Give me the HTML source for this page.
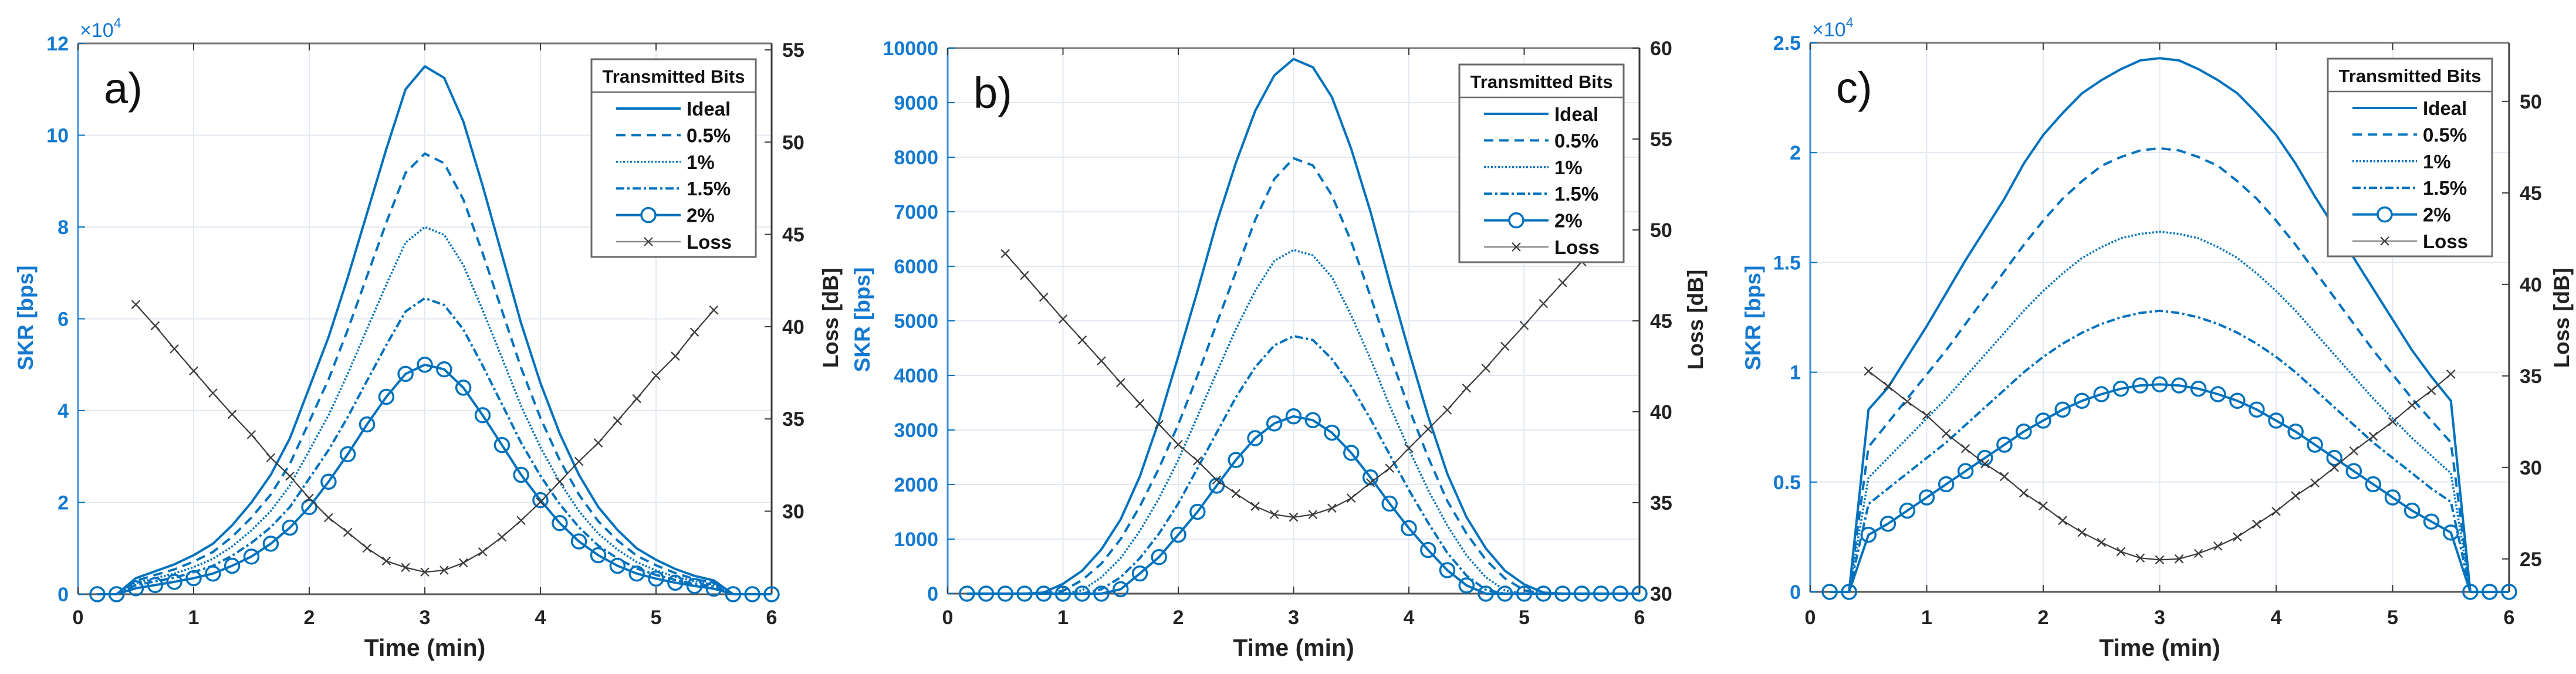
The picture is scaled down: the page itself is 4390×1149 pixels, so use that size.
<!DOCTYPE html>
<html><head><meta charset="utf-8"><style>
html,body{margin:0;padding:0;background:#fff;}
svg{display:block;}
text{font-family:"Liberation Sans",Arial,sans-serif;}
</style></head><body>
<svg id="fig" width="4390" height="1149" viewBox="0 0 4390 1149" xmlns="http://www.w3.org/2000/svg"></svg>
<script>
const t36 = [0.167,0.333,0.5,0.667,0.833,1,1.167,1.333,1.5,1.667,1.833,2,2.167,2.333,2.5,2.667,2.833,3,3.167,3.333,3.5,3.667,3.833,4,4.167,4.333,4.5,4.667,4.833,5,5.167,5.333,5.5,5.667,5.833,6];
const tLoss = [0.5,0.667,0.833,1,1.167,1.333,1.5,1.667,1.833,2,2.167,2.333,2.5,2.667,2.833,3,3.167,3.333,3.5,3.667,3.833,4,4.167,4.333,4.5,4.667,4.833,5,5.167,5.333,5.5];
const xTicks = [0,1,2,3,4,5,6];
const legendLabels = ["Ideal","0.5%","1%","1.5%","2%","Loss"];

const aIdeal = [0,0,0.35,0.5,0.65,0.85,1.1,1.5,2.0,2.6,3.4,4.5,5.6,6.9,8.3,9.7,11.0,11.5,11.25,10.3,8.9,7.4,5.9,4.6,3.5,2.6,1.9,1.4,1.0,0.75,0.55,0.4,0.3,0,0,0];
const a05 = [0,0,0.29,0.42,0.54,0.71,0.92,1.25,1.67,2.17,2.84,3.76,4.68,5.76,6.93,8.1,9.18,9.6,9.39,8.6,7.43,6.18,4.93,3.84,2.92,2.17,1.59,1.17,0.84,0.63,0.46,0.33,0.25,0,0,0];
const a1 = [0,0,0.24,0.35,0.45,0.59,0.77,1.04,1.39,1.81,2.37,3.13,3.9,4.8,5.78,6.75,7.66,8.0,7.83,7.17,6.19,5.15,4.1,3.2,2.44,1.81,1.32,0.97,0.7,0.52,0.38,0.28,0.21,0,0,0];
const a15 = [0,0,0.2,0.28,0.36,0.48,0.62,0.84,1.12,1.46,1.9,2.52,3.14,3.86,4.65,5.43,6.16,6.45,6.3,5.77,4.98,4.14,3.3,2.58,1.96,1.46,1.06,0.78,0.56,0.42,0.31,0.22,0.17,0,0,0];
const a2 = [0,0,0.13,0.2,0.27,0.35,0.45,0.62,0.82,1.1,1.45,1.9,2.45,3.05,3.7,4.3,4.8,5.0,4.9,4.5,3.9,3.25,2.6,2.05,1.55,1.15,0.85,0.62,0.45,0.34,0.25,0.18,0.12,0,0,0];
const aLoss = [41.2,40.05,38.8,37.6,36.4,35.25,34.15,32.9,31.9,30.7,29.65,28.85,28.0,27.3,26.95,26.7,26.8,27.2,27.8,28.6,29.5,30.5,31.6,32.7,33.7,34.9,36.1,37.35,38.4,39.7,40.9];
const aLeftTicks = [0,2,4,6,8,10,12];
const aRightTicks = [30,35,40,45,50,55];

const bIdeal = [0,0,0,0,20,180,420,810,1360,2150,3170,4350,5550,6800,7900,8850,9500,9800,9650,9100,8150,7000,5700,4450,3250,2200,1400,830,420,170,20,0,0,0,0,0];
const b05 = [0,0,0,0,0,50,250,550,1000,1600,2300,3100,4000,4950,5900,6850,7600,7980,7850,7300,6450,5450,4400,3400,2500,1700,1100,620,280,60,0,0,0,0,0,0];
const b1 = [0,0,0,0,0,0,60,300,650,1150,1750,2450,3250,4050,4850,5550,6100,6300,6200,5800,5100,4300,3450,2650,1900,1250,700,300,60,0,0,0,0,0,0,0];
const b15 = [0,0,0,0,0,0,0,80,300,650,1100,1650,2300,2950,3600,4150,4550,4720,4650,4300,3800,3200,2550,1900,1300,750,330,70,0,0,0,0,0,0,0,0];
const b2 = [0,0,0,0,0,0,0,0,80,370,670,1080,1500,1980,2450,2850,3120,3250,3180,2950,2580,2130,1650,1200,800,430,150,0,0,0,0,0,0,0,0,0];
const bLoss = [48.7,47.5,46.3,45.1,43.95,42.8,41.6,40.45,39.3,38.2,37.3,36.25,35.5,34.8,34.35,34.2,34.35,34.7,35.25,36.1,36.9,38.0,39.05,40.1,41.3,42.4,43.6,44.75,45.95,47.1,48.25];
const bLeftTicks = [0,1000,2000,3000,4000,5000,6000,7000,8000,9000,10000];
const bRightTicks = [30,35,40,45,50,55,60];

const cIdeal = [0,0,0.83,0.93,1.07,1.21,1.36,1.51,1.65,1.79,1.95,2.08,2.18,2.27,2.33,2.38,2.42,2.43,2.42,2.38,2.33,2.27,2.18,2.08,1.95,1.8,1.66,1.52,1.38,1.24,1.1,0.98,0.87,0,0,0];
const c05 = [0,0,0.66,0.77,0.88,0.99,1.1,1.22,1.34,1.46,1.58,1.69,1.79,1.87,1.94,1.98,2.01,2.02,2.01,1.98,1.94,1.87,1.79,1.69,1.58,1.46,1.34,1.22,1.1,0.99,0.88,0.78,0.68,0,0,0];
const c1 = [0,0,0.52,0.61,0.7,0.79,0.88,0.98,1.08,1.18,1.28,1.37,1.45,1.52,1.57,1.61,1.63,1.64,1.63,1.61,1.57,1.52,1.45,1.37,1.28,1.18,1.08,0.98,0.88,0.79,0.7,0.62,0.54,0,0,0];
const c15 = [0,0,0.4,0.47,0.54,0.61,0.68,0.76,0.84,0.92,1.0,1.07,1.13,1.18,1.22,1.25,1.27,1.28,1.27,1.25,1.22,1.18,1.13,1.07,1.0,0.92,0.84,0.76,0.68,0.61,0.54,0.47,0.41,0,0,0];
const c2 = [0,0,0.26,0.31,0.37,0.43,0.49,0.55,0.61,0.67,0.73,0.78,0.83,0.87,0.9,0.925,0.94,0.945,0.94,0.925,0.9,0.87,0.83,0.78,0.73,0.67,0.61,0.55,0.49,0.43,0.37,0.32,0.27,0,0,0];
const cLoss = [35.26,34.44,33.6,32.84,31.85,31.03,30.2,29.5,28.6,27.9,27.1,26.45,25.9,25.4,25.05,24.95,25.0,25.3,25.7,26.2,26.9,27.6,28.45,29.15,30.0,30.9,31.7,32.5,33.4,34.2,35.1];
const cLeftTicks = [0,0.5,1,1.5,2,2.5];
const cRightTicks = [25,30,35,40,45,50];

const NS = "http://www.w3.org/2000/svg";
const svg = document.getElementById('fig');
const BLUE = "#0072BD", TBLUE = "#1479d0", GRID = "#e3e9f1", DARK = "#3a3a3a";
function el(tag, attrs, parent){
  const e = document.createElementNS(NS, tag);
  for (const k in attrs) e.setAttribute(k, attrs[k]);
  (parent||svg).appendChild(e);
  return e;
}
function txt(s, x, y, attrs, parent){
  const e = el('text', Object.assign({x:x, y:y}, attrs), parent);
  e.textContent = s;
  return e;
}

function panel(cfg){
  const g = el('g', {});
  
  
  const L=cfg.L, R=cfg.R, T=cfg.T, B=cfg.B;
  const sx = v => L + (v-0)/(6-0)*(R-L);
  const syL = v => B - (v-cfg.lmin)/(cfg.lmax-cfg.lmin)*(B-T);
  const syR = v => B - (v-cfg.rmin)/(cfg.rmax-cfg.rmin)*(B-T);
  const grid = el('g', {}, g);
  
  
  xTicks.forEach(v => { el('line',{x1:sx(v),x2:sx(v),y1:T,y2:B,stroke:GRID,'stroke-width':2},grid); });
  cfg.lt.forEach(v => { el('line',{x1:L,x2:R,y1:syL(v),y2:syL(v),stroke:GRID,'stroke-width':2},grid); });
  el('line',{x1:L,x2:R,y1:T,y2:T,stroke:"#777",'stroke-width':3},g);
  el('line',{x1:L,x2:R,y1:B,y2:B,stroke:"#555",'stroke-width':3},g);
  el('line',{x1:L,x2:L,y1:T,y2:B,stroke:"#3a8ee0",'stroke-width':3},g);
  el('line',{x1:R,x2:R,y1:T,y2:B,stroke:"#3a3a3a",'stroke-width':3},g);
  xTicks.forEach(v => {
    el('line',{x1:sx(v),x2:sx(v),y1:B,y2:B-12,stroke:"#3a3a3a",'stroke-width':2},g);
    el('line',{x1:sx(v),x2:sx(v),y1:T,y2:T+12,stroke:"#3a3a3a",'stroke-width':2},g);
    const t = txt(String(v), sx(v), 1064, {'font-size':34,'font-weight':'bold','fill':'#222','text-anchor':'middle'}, g);
    
    
  });
  cfg.lt.forEach(v => {
    el('line',{x1:L,x2:L+12,y1:syL(v),y2:syL(v),stroke:BLUE,'stroke-width':2},g);
    const t = txt(String(v), L-16, syL(v)+12, {'font-size':34,'font-weight':'bold','fill':TBLUE,'text-anchor':'end'}, g);
    
    
  });
  cfg.rt.forEach(v => {
    el('line',{x1:R-12,x2:R,y1:syR(v),y2:syR(v),stroke:"#3a3a3a",'stroke-width':2},g);
    const t = txt(String(v), R+18, syR(v)+12, {'font-size':34,'font-weight':'bold','fill':'#222','text-anchor':'start'}, g);
    
    
  });
  if (cfg.exp){
    const e = txt('×10', L+3, T-11, {'font-size':34,'fill':TBLUE}, g);
    const s = el('tspan',{dy:-16,'font-size':23},e); s.textContent='4';
    
    
  }
  const xt = txt('Time (min)', (L+R)/2, 1118, {'font-size':41,'font-weight':'bold','fill':'#222','text-anchor':'middle'}, g);
  
  
  const yl = el('text',{x:0,y:0,'font-size':37,'font-weight':'bold','fill':TBLUE,'text-anchor':'middle',transform:`translate(${cfg.ylx},${cfg.yly}) rotate(-90)`},g);
  yl.textContent='SKR [bps]';
  
  
  const yr = el('text',{x:0,y:0,'font-size':37,'font-weight':'bold','fill':'#222','text-anchor':'middle',transform:`translate(${cfg.yrx},${cfg.yly}) rotate(-90)`},g);
  yr.textContent='Loss [dB]';
  
  
  const pl = txt(cfg.letter, L+44, T+102, {'font-size':74,'fill':'#111'}, g);
  
  
  const styles = [
    {d:'none', w:4},{d:'16 10', w:4},{d:'3 3', w:3.5},{d:'14 5 4 5', w:4},{d:'none', w:4}
  ];
  const names = ['series-ideal','series-0-5pct','series-1pct','series-1-5pct','series-2pct'];
  cfg.series.forEach((arr, i) => {
    const pts = arr.map((v,j) => sx(t36[j]).toFixed(1)+','+syL(v).toFixed(1)).join(' ');
    const p = el('polyline',{points:pts,fill:'none',stroke:BLUE,'stroke-width':styles[i].w,'stroke-dasharray':styles[i].d,'stroke-linejoin':'round'},g);
    
    
  });
  cfg.series[4].forEach((v,j) => {
    const m = el('circle',{cx:sx(t36[j]),cy:syL(v),r:12,fill:'none',stroke:BLUE,'stroke-width':3.5},g);
    
    
  });
  const lp = el('polyline',{points:cfg.loss.map((v,j)=>sx(tLoss[j]).toFixed(1)+','+syR(v).toFixed(1)).join(' '),fill:'none',stroke:DARK,'stroke-width':2.2},g);
  
  
  cfg.loss.forEach((v,j) => {
    const cx = sx(tLoss[j]), cy = syR(v);
    const m = el('path',{d:`M${cx-7},${cy-7}L${cx+7},${cy+7}M${cx-7},${cy+7}L${cx+7},${cy-7}`,stroke:DARK,'stroke-width':2.2},g);
    
    
  });
  const lg = el('g',{},g);
  
  
  const lx = cfg.lgx, ly = cfg.lgy, lw = 280, lh = 337;
  el('rect',{x:lx,y:ly,width:lw,height:lh,fill:'#fff',stroke:'#6a6a6a','stroke-width':3},lg);
  el('line',{x1:lx,x2:lx+lw,y1:ly+56,y2:ly+56,stroke:'#6a6a6a','stroke-width':2.5},lg);
  const tt = txt('Transmitted Bits', lx+lw/2, ly+40, {'font-size':31,'font-weight':'bold','fill':'#111','text-anchor':'middle'}, lg);
  
  
  legendLabels.forEach((s,i) => {
    const yy = ly + 84 + i*45.4;
    const x1 = lx+42, x2 = lx+152;
    if (i < 5) {
      el('line',{x1:x1,x2:x2,y1:yy,y2:yy,stroke:BLUE,'stroke-width':styles[i].w,'stroke-dasharray':styles[i].d},lg);
      if (i===4) el('circle',{cx:(x1+x2)/2,cy:yy,r:12,fill:'#fff',stroke:BLUE,'stroke-width':3.5},lg);
    } else {
      el('line',{x1:x1,x2:x2,y1:yy,y2:yy,stroke:'#888','stroke-width':2.5},lg);
      const cx=(x1+x2)/2, cy=yy;
      el('path',{d:`M${cx-7},${cy-7}L${cx+7},${cy+7}M${cx-7},${cy+7}L${cx+7},${cy-7}`,stroke:DARK,'stroke-width':2.2},lg);
    }
    const lt = txt(s, x2+10, yy+12, {'font-size':33,'font-weight':'bold','fill':'#111'}, lg);
    
    
  });
}

panel({name:'panel-a', letter:'a)', L:133, R:1315, T:74, B:1013, lmin:0, lmax:12, rmin:25.5, rmax:55.35,
  lt:aLeftTicks, rt:aRightTicks, exp:true, series:[aIdeal,a05,a1,a15,a2], loss:aLoss,
  ylx:56, yrx:1428, yly:542, lgx:1008, lgy:101});
panel({name:'panel-b', letter:'b)', L:1615, R:2794, T:82, B:1012, lmin:0, lmax:10000, rmin:30, rmax:60,
  lt:bLeftTicks, rt:bRightTicks, exp:false, series:[bIdeal,b05,b1,b15,b2], loss:bLoss,
  ylx:1482, yrx:2902, yly:545, lgx:2487, lgy:110});
panel({name:'panel-c', letter:'c)', L:3085, R:4276, T:73, B:1009, lmin:0, lmax:2.5, rmin:23.2, rmax:53.2,
  lt:cLeftTicks, rt:cRightTicks, exp:true, series:[cIdeal,c05,c1,c15,c2], loss:cLoss,
  ylx:3000, yrx:4378, yly:542, lgx:3967, lgy:100});
</script>
</body></html>
